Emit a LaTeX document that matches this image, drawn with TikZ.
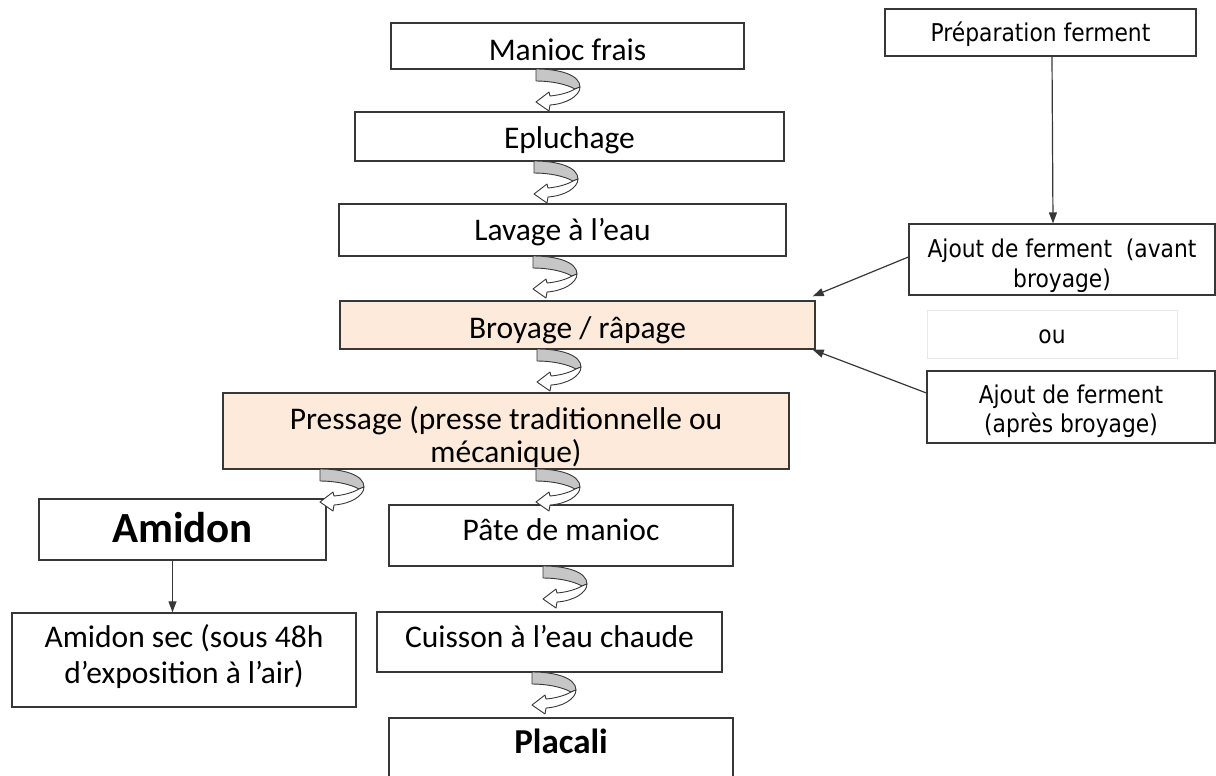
\documentclass[tikz,border=0pt]{standalone}
\usepackage{fontspec}
\setmainfont{Carlito}
\newfontfamily\rfont[FakeStretch=0.89]{DejaVu Sans}
\usetikzlibrary{arrows.meta}
\definecolor{peach}{RGB}{253,234,218}
\definecolor{edge}{RGB}{55,55,55}
\definecolor{backgray}{RGB}{198,198,198}
\definecolor{faint}{RGB}{232,232,232}
\newcommand{\twolines}[2]{\begin{tabular}[t]{@{}c@{}}#1\\#2\end{tabular}}
\tikzset{
  box/.style={draw=edge, line width=1.4pt, inner sep=0pt, fill=white,
    font=\fontsize{31.5}{36}\selectfont},
  peachbox/.style={box, fill=peach},
  rbox/.style={draw=edge, line width=1.2pt, inner sep=0pt, fill=white,
    font=\rfont\fontsize{24.5}{30}\selectfont},
  arr/.style={draw=edge, line width=1.2pt, -{Triangle[length=11pt,width=8pt]}},
  uturn/.pic={
    \filldraw[draw=edge, fill=backgray, line width=0.9pt, line join=round]
      (0,0) .. controls (24,0) and (44,6) .. (44,18) -- (39,20)
      .. controls (30,15) and (15,12) .. (0,12) -- cycle;
    \filldraw[draw=edge, fill=white, line width=0.9pt, line join=round]
      (0,33) -- (13,23) -- (14,27) .. controls (25,26) and (34,23) .. (39,20)
      -- (44,18) .. controls (44,27) and (30,35) .. (14,36) -- (13,42) -- cycle;
  }
}
\begin{document}
\begin{tikzpicture}[x=1pt,y=-1pt]
\useasboundingbox (0,0) rectangle (1216,776);
\clip (0,0) rectangle (1216,776);

% main column
\node[box, minimum width=353pt, text height=37pt, text depth=9pt] (manioc) at (567.5,46) {Manioc frais};
\node[box, minimum width=429pt, text height=36pt, text depth=13pt] (eplu) at (569.5,136.5) {Epluchage};
\node[box, minimum width=447pt, text height=36pt, text depth=16pt] (lavage) at (562.5,230) {Lavage à l’eau};
\node[peachbox, minimum width=475pt, text height=37pt, text depth=11pt] (broy) at (577.5,325) {Broyage / râpage};
\node[peachbox, minimum width=566pt, text height=36pt, text depth=40pt,
  font=\fontsize{31.5}{33}\selectfont] (press) at (506,431)
  {\twolines{Pressage (presse traditionnelle ou}{mécanique)}};
\node[box, minimum width=287pt, text height=43pt, text depth=18pt,
  font=\bfseries\fontsize{43}{48}\selectfont] (amidon) at (182.5,529.5) {Amidon};
\node[box, minimum width=344pt, text height=35pt, text depth=26pt] (pate) at (561,535.5) {Pâte de manioc};
\node[box, minimum width=344pt, text height=34pt, text depth=60pt] (amsec) at (184,660)
  {\twolines{Amidon sec (sous 48h}{d’exposition à l’air)}};
\node[box, minimum width=345pt, text height=35pt, text depth=25pt] (cuisson) at (549.5,642) {Cuisson à l’eau chaude};
\node[box, minimum width=344pt, text height=35pt, text depth=47pt,
  font=\bfseries\fontsize{35}{40}\selectfont] (placali) at (561,759) {Placali};

% right column
\node[rbox, minimum width=311pt, text height=33pt, text depth=14pt] (prep) at (1040.5,32.5) {Préparation ferment};
\node[rbox, minimum width=306pt, text height=33pt, text depth=38pt] (avant) at (1062,259.5)
  {\twolines{Ajout de ferment~ (avant}{broyage)}};
\node[rbox, draw=faint, line width=0.6pt, minimum width=250pt, text height=33pt, text depth=15pt] (ou) at (1052,334) {ou};
\node[rbox, minimum width=288pt, text height=32pt, text depth=40pt,
  font=\rfont\fontsize{24.5}{29}\selectfont] (apres) at (1071,407)
  {\twolines{Ajout de ferment}{(après broyage)}};

% straight connectors
\draw[arr] ([xshift=11.5pt]prep.south) -- ([xshift=-9pt]avant.north);
\draw[arr] ([yshift=2.5pt]avant.west) -- ([xshift=-3pt,yshift=4pt]broy.north east);
\draw[arr] ([yshift=14pt]apres.west) -- ([xshift=-3pt,yshift=0pt]broy.south east);
\draw[arr] ([xshift=-10pt]amidon.south) -- ([xshift=-10pt]amidon.south |- amsec.north);

% U-turn arrows
\pic at (536,69) {uturn};
\pic at (534,161) {uturn};
\pic at (533,256) {uturn};
\pic at (537,349) {uturn};
\pic at (320,469) {uturn};
\pic at (536,469) {uturn};
\pic at (543,566) {uturn};
\pic at (532,672) {uturn};
\end{tikzpicture}
\end{document}
